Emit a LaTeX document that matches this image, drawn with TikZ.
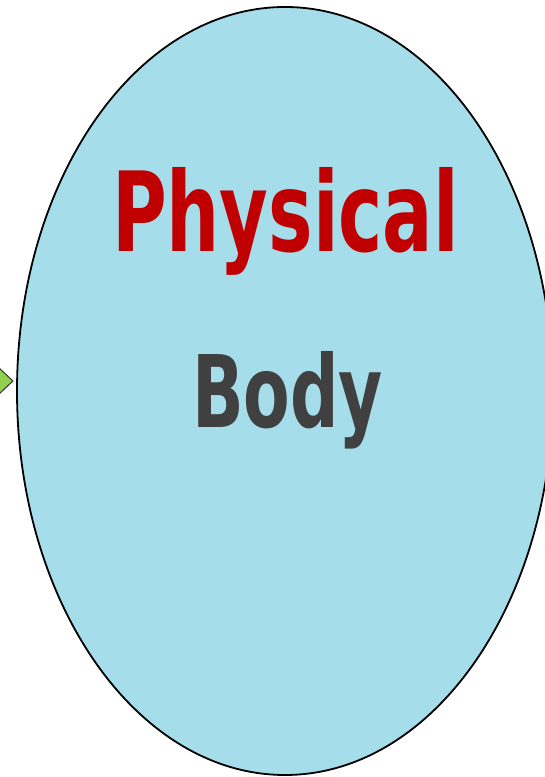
\documentclass[tikz,border=0pt]{standalone}
\usepackage{fontspec}
\newfontfamily\condbold{DejaVu Sans Condensed Bold}
\usetikzlibrary{shapes.geometric}
\definecolor{bodyfill}{HTML}{A5DDEA}
\definecolor{redtxt}{HTML}{C00000}
\definecolor{graytxt}{HTML}{404040}
\definecolor{arrowgreen}{HTML}{92D050}
\tikzset{
  bigword/.style={inner sep=0pt, outer sep=0pt, font=\condbold},
}
\begin{document}
\begin{tikzpicture}[x=1pt,y=1pt]
\useasboundingbox (0,0) rectangle (544,777);
\fill[white] (0,0) rectangle (544,777);
% green arrow pointing at ellipse
\draw[fill=arrowgreen, draw=black!80, line width=1pt, line join=miter]
  (-2,410) -- (13,396) -- (-2,382) -- cycle;
% ellipse
\node[ellipse, draw=black, line width=1.8pt, fill=bodyfill,
      minimum width=536pt, minimum height=768pt, inner sep=0pt] (body) at (285,386) {};
% texts
\node[bigword, anchor=base west, text=redtxt] (physical) at (112,525)
  {\resizebox{347pt}{84pt}{Physical}};
\node[bigword, anchor=base west, text=graytxt] (bodytext) at (192,349)
  {\resizebox{191pt}{76pt}{Body}};
\end{tikzpicture}
\end{document}
